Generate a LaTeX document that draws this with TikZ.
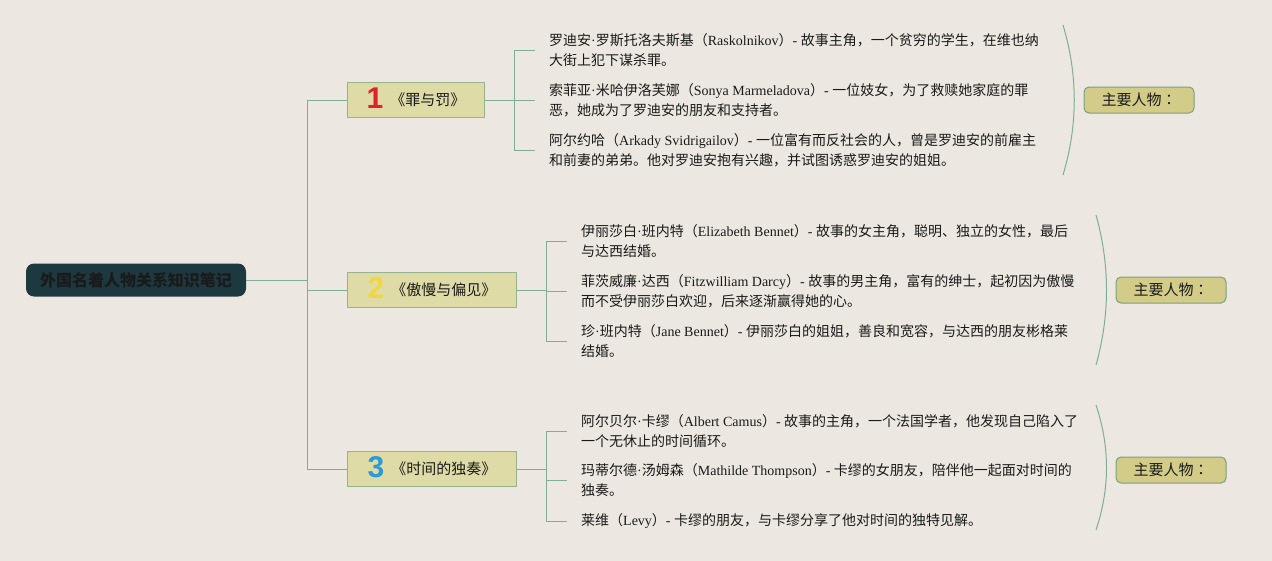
\documentclass[tikz,border=0pt]{standalone}
\usepackage{fontspec}
\setmainfont{Noto Sans CJK SC}
\newfontfamily\lat{Liberation Serif}
\newfontfamily\numfont{Liberation Sans}
\newfontfamily\tcfont{Noto Sans CJK TC}
\definecolor{bg}{HTML}{ECE8E1}
\definecolor{linec}{HTML}{7FAD98}
\definecolor{rootfill}{HTML}{1D3940}
\definecolor{txt}{HTML}{1A1A1A}
\definecolor{brfill}{HTML}{DEDBA6}
\definecolor{brdraw}{HTML}{96B38E}
\definecolor{lbfill}{HTML}{D3CB88}
\definecolor{lbdraw}{HTML}{78A07E}
\definecolor{numred}{HTML}{E0202A}
\definecolor{numyel}{HTML}{F2D640}
\definecolor{numblue}{HTML}{2A9AD8}
\newcommand\numtag[2]{{\numfont\fontsize{30}{30}\selectfont\bfseries\color{#1}\smash{\raisebox{-3pt}{#2}}}\hspace{7pt}}
\begin{document}
\begin{tikzpicture}[x=1pt,y=-1pt,
  conn/.style={draw=linec,line width=1pt},
  rootbox/.style={fill=rootfill,rounded corners=8pt,minimum width=220pt,minimum height=33pt,inner sep=0pt,text=txt,font=\fontsize{16}{16}\selectfont\bfseries},
  branchbox/.style={fill=brfill,draw=brdraw,line width=1pt,minimum height=35pt,inner xsep=17pt,inner ysep=0pt,anchor=west,text=txt,font=\fontsize{15}{15}\selectfont},
  entry/.style={anchor=west,align=left,inner sep=0pt,text=txt,font=\fontsize{14}{20}\selectfont},
  labelbox/.style={fill=lbfill,draw=lbdraw,line width=1pt,rounded corners=5pt,minimum width=110pt,minimum height=26pt,inner sep=0pt,text=txt,font=\fontsize{15}{15}\selectfont},
  bracket/.style={draw=linec,line width=1pt}
]
\useasboundingbox (0,0) rectangle (1272,560);
\fill[bg] (-10,-10) rectangle (1282,570);

% root
\node[rootbox] (root) at (136,280) {外国名着人物关系知识笔记};

% branches
\node[branchbox,minimum width=137pt] (b1) at (347,100) {\numtag{numred}{1}《罪与罚》};
\node[branchbox,minimum width=169pt] (b2) at (347,290) {\numtag{numyel}{2}《傲慢与偏见》};
\node[branchbox,minimum width=169pt] (b3) at (347,469) {\numtag{numblue}{3}《时间的独奏》};

\coordinate (hub) at (307,280);
\draw[conn] (root.east) -- (hub);
\draw[conn] (hub) |- (b1.west);
\draw[conn] (hub) |- (b2.west);
\draw[conn] (hub) |- (b3.west);

% entries group 1
\node[entry] (e11) at (549,50) {罗迪安{\lat ·}罗斯托洛夫斯基（{\lat Raskolnikov}）{\lat - }故事主角，一个贫穷的学生，在维也纳\\大街上犯下谋杀罪。};
\node[entry] (e12) at (549,100) {索菲亚{\lat ·}米哈伊洛芙娜（{\lat Sonya Marmeladova}）{\lat - }一位妓女，为了救赎她家庭的罪\\恶，她成为了罗迪安的朋友和支持者。};
\node[entry] (e13) at (549,150) {阿尔约哈（{\lat Arkady Svidrigailov}）{\lat - }一位富有而反社会的人，曾是罗迪安的前雇主\\和前妻的弟弟。他对罗迪安抱有兴趣，并试图诱惑罗迪安的姐姐。};

% entries group 2
\node[entry] (e21) at (581,241) {伊丽莎白{\lat ·}班内特（{\lat Elizabeth Bennet}）{\lat - }故事的女主角，聪明、独立的女性，最后\\与达西结婚。};
\node[entry] (e22) at (581,291) {菲茨威廉{\lat ·}达西（{\lat Fitzwilliam Darcy}）{\lat - }故事的男主角，富有的绅士，起初因为傲慢\\而不受伊丽莎白欢迎，后来逐渐赢得她的心。};
\node[entry] (e23) at (581,341) {珍{\lat ·}班内特（{\lat Jane Bennet}）{\lat - }伊丽莎白的姐姐，善良和宽容，与达西的朋友彬格莱\\结婚。};

% entries group 3
\node[entry] (e31) at (581,431) {阿尔贝尔{\lat ·}卡缪（{\lat Albert Camus}）{\lat - }故事的主角，一个法国学者，他发现自己陷入了\\一个无休止的时间循环。};
\node[entry] (e32) at (581,480) {玛蒂尔德{\lat ·}汤姆森（{\lat Mathilde Thompson}）{\lat - }卡缪的女朋友，陪伴他一起面对时间的\\独奏。};
\node[entry] (e33) at (581,521) {莱维（{\lat Levy}）{\lat - }卡缪的朋友，与卡缪分享了他对时间的独特见解。};

% sub connectors
\coordinate (h1) at (514,100);
\coordinate (h2) at (546,290);
\coordinate (h3) at (546,469);
\draw[conn] (b1.east) -- (h1);
\draw[conn] (b2.east) -- (h2);
\draw[conn] (b3.east) -- (h3);
\foreach \e in {e11,e12,e13} \draw[conn,shorten >=14pt] (h1) |- (\e.west);
\foreach \e in {e21,e22,e23} \draw[conn,shorten >=14pt] (h2) |- (\e.west);
\foreach \e in {e31,e32,e33} \draw[conn,shorten >=14pt] (h3) |- (\e.west);

% brackets
\draw[bracket] (1063,25) .. controls (1078,75) and (1078,125) .. (1063,175);
\draw[bracket] (1096,215) .. controls (1110,265) and (1110,315) .. (1096,365);
\draw[bracket] (1096,405) .. controls (1110,447) and (1110,488) .. (1096,530);

% labels
\node[labelbox] (l1) at (1139,100) {主要人物{\tcfont ：}};
\node[labelbox] (l2) at (1171,290) {主要人物{\tcfont ：}};
\node[labelbox] (l3) at (1171,470) {主要人物{\tcfont ：}};
\end{tikzpicture}
\end{document}
